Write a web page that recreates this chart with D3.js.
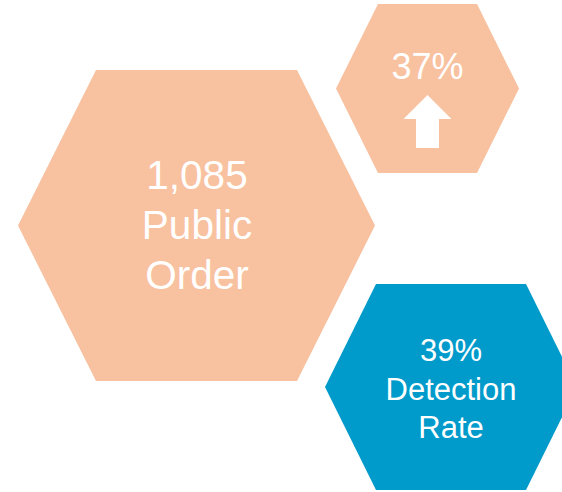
<!DOCTYPE html>
<html>
<head>
<meta charset="utf-8">
<script src="https://cdn.jsdelivr.net/npm/d3@7"></script>
<style>
  html, body { margin: 0; padding: 0; background: #fff; }
  svg { display: block; }
</style>
</head>
<body>
<div id="chart"></div>
<script>
'use strict';

// figures shown in each hexagon
var metrics = ['1,085', '37%', '39%'];
var captions = [['Public', 'Order'], [], ['Detection', 'Rate']];
var trend = [null, 'up', null];

var width = 562, height = 492;

// hexagon layout: bounding box [x0, x1, y0, y1] and horizontal inset of the flat edges
var boxes = [
  { x0: 18, x1: 375, y0: 70, y1: 381, inset: 78, color: '#f8c1a0', size: 40.5, gap: 50, tx: 197, ty: 189 },
  { x0: 336, x1: 519, y0: 4, y1: 173, inset: 42, color: '#f8c1a0', size: 36, gap: 0, tx: 427.5, ty: 79 },
  { x0: 325, x1: 577, y0: 284, y1: 490, inset: 51, color: '#009bcb', size: 31, gap: 38.5, tx: 451, ty: 361 }
];

var svg = d3.select('#chart').append('svg')
  .attr('width', width)
  .attr('height', height);

var line = d3.line().curve(d3.curveLinearClosed);

function hexPoints(b) {
  var cy = (b.y0 + b.y1) / 2;
  return [
    [b.x0, cy], [b.x0 + b.inset, b.y0], [b.x1 - b.inset, b.y0],
    [b.x1, cy], [b.x1 - b.inset, b.y1], [b.x0 + b.inset, b.y1]
  ];
}

var cells = svg.selectAll('g.cell')
  .data(metrics)
  .enter().append('g')
  .attr('class', 'cell');

cells.append('path')
  .attr('d', function (d, i) { return line(hexPoints(boxes[i])); })
  .attr('fill', function (d, i) { return boxes[i].color; });

cells.each(function (d, i) {
  var b = boxes[i];
  var lines = [d].concat(captions[i]);
  var g = d3.select(this);

  g.selectAll('text')
    .data(lines)
    .enter().append('text')
    .attr('x', b.tx)
    .attr('y', function (t, j) { return b.ty + j * b.gap; })
    .attr('text-anchor', 'middle')
    .attr('fill', '#fff')
    .style('font-family', 'Liberation Sans, Arial, sans-serif')
    .style('font-size', b.size + 'px')
    .text(function (t) { return t; });

  if (trend[i] === 'up') {
    // up arrow under the percentage
    var cx = b.tx;
    var p = d3.path();
    p.moveTo(cx, 95);
    p.lineTo(cx + 24, 119);
    p.lineTo(cx + 11.5, 119);
    p.lineTo(cx + 11.5, 148);
    p.lineTo(cx - 11.5, 148);
    p.lineTo(cx - 11.5, 119);
    p.lineTo(cx - 24, 119);
    p.closePath();
    g.append('path').attr('d', p.toString()).attr('fill', '#fff');
  }
});
</script>
</body>
</html>
